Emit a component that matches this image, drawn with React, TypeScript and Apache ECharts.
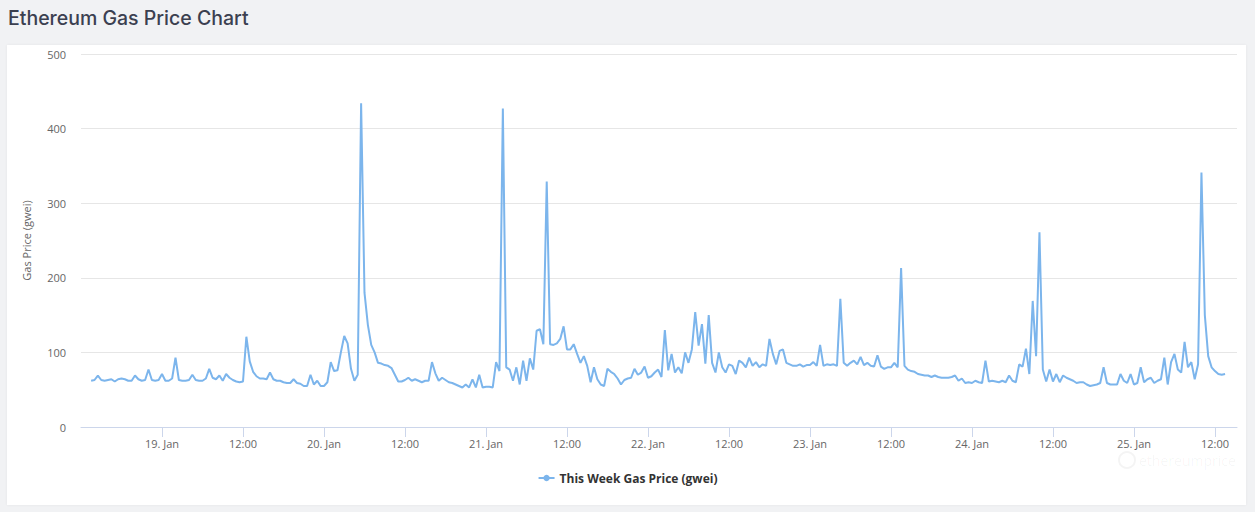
import React, { useEffect, useRef } from "react";
import * as echarts from "echarts";

// Series sampled every 30 minutes, starting 18 Jan 13:30 (UTC)
const seriesStart = Date.UTC(2022, 0, 18, 13, 30);
const stepMinutes = 30;

const gasPrice: number[] = [
  62, 63, 69, 63, 62, 63, 64, 61, 64, 65, 64, 62, 62, 69, 64, 62, 63, 77, 63, 62,
  63, 71, 62, 62, 65, 93, 63, 62, 62, 63, 70, 63, 62, 62, 65, 78, 66, 64, 69, 62,
  71, 66, 63, 61, 60, 61, 121, 88, 74, 68, 65, 65, 64, 73, 64, 62, 62, 60, 59, 59,
  64, 59, 58, 55, 55, 70, 57, 62, 55, 55, 60, 87, 75, 76, 100, 122, 112, 78, 62, 70,
  434, 180, 137, 110, 100, 86, 85, 83, 82, 79, 70, 61, 61, 63, 66, 62, 64, 62, 60, 62,
  62, 87, 72, 62, 66, 63, 60, 59, 57, 55, 53, 57, 53, 64, 53, 70, 53, 54, 54, 53,
  87, 75, 427, 80, 77, 62, 80, 57, 89, 62, 92, 77, 129, 131, 111, 329, 111, 110, 112, 118,
  135, 104, 104, 111, 98, 86, 95, 82, 60, 80, 64, 57, 55, 78, 74, 71, 65, 57, 63, 65,
  66, 78, 70, 73, 81, 66, 68, 73, 77, 67, 130, 76, 98, 73, 80, 72, 100, 86, 104, 154,
  109, 138, 85, 150, 86, 73, 100, 80, 73, 84, 82, 71, 89, 86, 80, 93, 82, 87, 80, 84,
  82, 118, 98, 84, 102, 104, 86, 84, 82, 82, 84, 81, 83, 83, 87, 82, 110, 82, 84, 83,
  84, 82, 172, 86, 82, 86, 89, 84, 94, 83, 86, 82, 81, 96, 81, 78, 80, 80, 86, 80,
  213, 82, 77, 75, 74, 71, 70, 69, 69, 67, 69, 67, 66, 66, 66, 67, 69, 62, 65, 59,
  60, 59, 62, 60, 59, 89, 61, 62, 61, 60, 62, 60, 69, 62, 60, 84, 81, 105, 71, 169,
  95, 261, 77, 61, 77, 61, 71, 60, 69, 66, 64, 62, 59, 60, 60, 57, 55, 56, 57, 59,
  80, 59, 57, 57, 57, 71, 62, 59, 71, 57, 59, 80, 60, 64, 66, 59, 62, 64, 93, 57,
  87, 98, 77, 73, 114, 80, 87, 64, 84, 341, 150, 95, 80, 75, 71, 70, 71,
];

const axisMin = Date.UTC(2022, 0, 18, 12, 0);
const axisMax = Date.UTC(2022, 0, 25, 15, 16);

const xTickTimes: number[] = [
  Date.UTC(2022, 0, 19, 0), Date.UTC(2022, 0, 19, 12),
  Date.UTC(2022, 0, 20, 0), Date.UTC(2022, 0, 20, 12),
  Date.UTC(2022, 0, 21, 0), Date.UTC(2022, 0, 21, 12),
  Date.UTC(2022, 0, 22, 0), Date.UTC(2022, 0, 22, 12),
  Date.UTC(2022, 0, 23, 0), Date.UTC(2022, 0, 23, 12),
  Date.UTC(2022, 0, 24, 0), Date.UTC(2022, 0, 24, 12),
  Date.UTC(2022, 0, 25, 0), Date.UTC(2022, 0, 25, 12),
];

const yTicks = [0, 100, 200, 300, 400, 500];
const monthNames = ["Jan", "Feb", "Mar", "Apr", "May", "Jun", "Jul", "Aug", "Sep", "Oct", "Nov", "Dec"];

const seriesName = "This Week Gas Price (gwei)";
const yAxisTitle = "Gas Price (gwei)";
const chartTitle = "Ethereum Gas Price Chart";
const watermark = "ethereumprice";

function formatTick(v: number): string {
  const d = new Date(v);
  const h = d.getUTCHours();
  const m = d.getUTCMinutes();
  if (h === 0 && m === 0) return `${d.getUTCDate()}. ${monthNames[d.getUTCMonth()]}`;
  return `${String(h).padStart(2, "0")}:${String(m).padStart(2, "0")}`;
}

export default function App() {
  const ref = useRef<HTMLDivElement>(null);

  useEffect(() => {
    if (!ref.current) return;
    const chart = echarts.init(ref.current, undefined, { renderer: "svg" });
    const data = gasPrice.map((v, i) => [seriesStart + i * stepMinutes * 60000, v]);
    const font = "'Open Sans', 'DejaVu Sans', sans-serif";

    chart.setOption({
      animation: false,
      textStyle: { fontFamily: font },
      title: {
        text: chartTitle,
        left: 3,
        top: 3,
        textStyle: {
          fontFamily: "Inter, 'Open Sans', sans-serif",
          fontSize: 19.5,
          fontWeight: 500,
          color: "#3b4050",
        },
      },
      grid: { left: 81, right: 18, top: 54, bottom: 85, containLabel: false },
      legend: {
        show: true,
        left: "center",
        top: 467,
        itemWidth: 16,
        itemHeight: 8,
        textStyle: { fontFamily: font, fontSize: 12, fontWeight: "bold", color: "#333333" },
        data: [{ name: seriesName }],
      },
      xAxis: {
        type: "value",
        min: axisMin,
        max: axisMax,
        axisLine: { show: true, onZero: false, lineStyle: { color: "#ccd6eb", width: 1 } },
        axisTick: {
          show: true,
          length: 10,
          lineStyle: { color: "#ccd6eb" },
          customValues: xTickTimes,
        },
        axisLabel: {
          show: true,
          margin: 11,
          color: "#666666",
          fontSize: 11,
          fontFamily: font,
          customValues: xTickTimes,
          formatter: (v: number) => formatTick(v),
        },
        splitLine: { show: false },
      },
      yAxis: {
        type: "value",
        min: 0,
        max: 500,
        interval: 100,
        name: yAxisTitle,
        nameLocation: "middle",
        nameGap: 49,
        nameRotate: 90,
        nameTextStyle: { color: "#666666", fontSize: 11, fontFamily: font },
        axisLine: { show: false },
        axisTick: { show: false },
        axisLabel: {
          color: "#666666",
          fontSize: 11,
          margin: 15,
          fontFamily: font,
          formatter: (v: number) => (yTicks.includes(v) ? String(v) : ""),
        },
        splitLine: { show: true, lineStyle: { color: "#e6e6e6", width: 1 } },
      },
      graphic: [
        {
          type: "circle",
          shape: { cx: 1127, cy: 460, r: 8 },
          style: { fill: "none", stroke: "rgba(0,0,0,0.045)", lineWidth: 2 },
          silent: true,
        },
        {
          type: "text",
          left: 1139,
          top: 453,
          style: {
            text: watermark,
            fill: "rgba(0,0,0,0.045)",
            font: "14px 'Open Sans', sans-serif",
          },
          silent: true,
        },
      ],
      series: [
        {
          name: seriesName,
          type: "line",
          data,
          symbol: "circle",
          symbolSize: 8,
          showSymbol: false,
          lineStyle: { color: "#7cb5ec", width: 2 },
          itemStyle: { color: "#7cb5ec" },
        },
      ],
    });

    return () => chart.dispose();
  }, []);

  return (
    <div
      style={{
        position: "fixed",
        left: 0,
        top: 0,
        width: 1255,
        height: 512,
        background: "#f1f2f4",
        overflow: "hidden",
      }}
    >
      <div
        style={{
          position: "absolute",
          left: 7,
          top: 45,
          width: 1239,
          height: 460,
          background: "#ffffff",
          boxShadow: "0 0 3px rgba(0,0,0,0.06)",
        }}
      />
      <div ref={ref} style={{ position: "absolute", left: 0, top: 0, width: 1255, height: 512 }} />
    </div>
  );
}
